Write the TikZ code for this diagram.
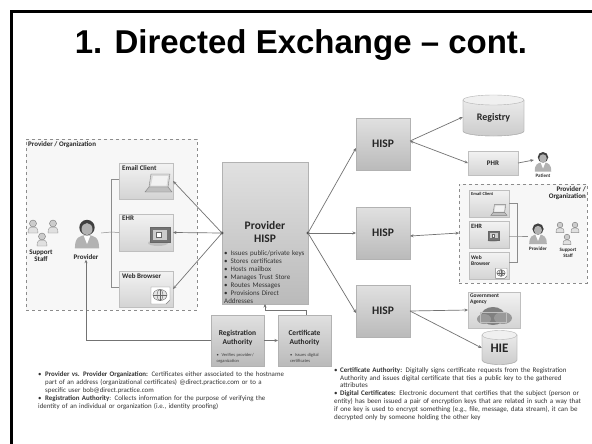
\documentclass[tikz,border=0pt]{standalone}
\usepackage{fontspec}
\setmainfont{Carlito}
\newfontfamily\titlefont{Liberation Sans}
\usetikzlibrary{arrows.meta}
\hyphenpenalty=10000
\exhyphenpenalty=10000
\newcommand\fsz[2]{\fontsize{#1}{#2}\selectfont}
\newcommand\bitem[2]{\par\hangindent=#1\hangafter=1\noindent\makebox[#1][l]{\textbullet}#2}
\tikzset{
  gbox/.style={draw=black!30, top color=black!12, bottom color=black!27, inner sep=0pt, outer sep=0pt},
  lbox/.style={draw=black!25, top color=black!5, bottom color=black!17, inner sep=0pt, outer sep=0pt},
  cont/.style={draw=black!45, dashed, fill=black!3, inner sep=0pt, outer sep=0pt, line width=0.6pt},
  arr/.style={draw=black!55, line width=0.7pt, -{Stealth[length=3.5pt,width=3pt]}},
  darr/.style={draw=black!55, line width=0.7pt, {Stealth[length=3.5pt,width=3pt]}-{Stealth[length=3.5pt,width=3pt]}},
  conn/.style={draw=black!45, line width=0.5pt},
  lbl/.style={font=\bfseries\fsz{7}{8}, inner sep=0pt, align=left, text=black!85},
  cyl/.style={draw=black!30, top color=black!8, bottom color=black!20},
  person/.pic={
    \fill[black!30] (-11,14) .. controls (-11,4) and (-7,2) .. (0,2) .. controls (7,2) and (11,4) .. (11,14) -- cycle;
    \fill[white] (-3,2.5) -- (0,10) -- (3,2.5) -- cycle;
    \fill[black!75] (0,-5) circle (7);
    \fill[black!30] (0,-3.5) ellipse (5 and 5.5);
  },
  staff/.pic={
    \draw[black!45, fill=black!12] (-10,14) .. controls (-10,4) and (-7,2) .. (0,2) .. controls (7,2) and (10,4) .. (10,14) -- cycle;
    \draw[black!55, fill=black!20] (0,-5) circle (7);
  },
  laptop/.pic={
    \draw[black!50, fill=black!15] (-6,-9) -- (13,-9) -- (11,4) -- (-8,4) -- cycle;
    \fill[black!5] (-4,-7) -- (11,-7) -- (9.5,2.5) -- (-6,2.5) -- cycle;
    \draw[black!50, fill=black!25] (-8,4) -- (11,4) -- (15,9) -- (-12,9) -- cycle;
  },
  monitor/.pic={
    \fill[black!25] (-2,8) ellipse (10 and 3);
    \draw[black!60, fill=black!55] (-10,-8) rectangle (10,7);
    \fill[black!20] (-7,-5.5) rectangle (7,4.5);
    \draw[black!60, fill=white] (-4,-3) rectangle (1,2);
  },
  globe/.pic={
    \draw[black!50, fill=white] (-9,-8) -- (10,-8) -- (10,5) -- (6,9) -- (-9,9) -- cycle;
    \draw[black!60, fill=black!10] (0,0) ellipse (7 and 5.5);
    \draw[black!60] (0,-5.5) -- (0,5.5) (-7,0) -- (7,0);
    \draw[black!60] (0,0) ellipse (3 and 5.5);
  },
}
\begin{document}
\begin{tikzpicture}[x=1pt,y=-1pt]
\useasboundingbox (0,0) rectangle (592,444);
\fill[white] (0,0) rectangle (592,444);
\draw[line width=3pt] (11,444) -- (11,11.5) -- (592,11.5);

% title
\node[font=\titlefont\bfseries\fsz{33}{36}, anchor=base, inner sep=0pt] (title) at (301,54) {1. Directed Exchange – cont.};

% ---------- left provider organization ----------
\node[cont, anchor=north west, minimum width=171, minimum height=171] (org) at (26,139) {};
\node[lbl, anchor=north west] (orglbl) at (28,141.5) {Provider / Organization};

\node[lbox, minimum width=54, minimum height=36] (email) at (146,181) {};
\node[lbl, anchor=north west] (emaillbl) at (122,165) {Email Client};
\pic at (157,183) {laptop};
\node[lbox, minimum width=54, minimum height=37] (ehr) at (146,232.5) {};
\node[lbl, anchor=north west] (ehrlbl) at (122,216) {EHR};
\pic at (160,235) {monitor};
\node[lbox, minimum width=54, minimum height=36] (web) at (146,289) {};
\node[lbl, anchor=north west] (weblbl) at (122,273) {Web Browser};
\pic at (160,295) {globe};

\pic[scale=0.5] at (33,226) {staff};
\pic[scale=0.5] at (53,226) {staff};
\pic[scale=0.5] at (42,239) {staff};
\node[lbl, align=center] (stafflbl) at (41,256) {Support\\[-1pt]Staff};
\node[inner sep=0pt, minimum width=28, minimum height=30] (prov) at (87,233) {};
\pic[scale=1.1] at (87,233) {person};
\node[lbl] (provlbl) at (86,257) {Provider};

\coordinate (bk1) at (111,179);
\coordinate (bk2) at (111,232);
\coordinate (bk3) at (111,287);
\draw[conn] (prov.east) -- (bk2);
\draw[conn] (email.west |- bk1) -- (bk1) -- (bk3) -- (bk3 -| web.west);
\draw[conn] (bk2) -- (ehr.west);

% ---------- provider HISP ----------
\node[gbox, anchor=north west, minimum width=86, minimum height=142] (phisp) at (222,162) {};
\node[font=\bfseries\fsz{11.5}{12.5}, align=center, inner sep=0pt, text=black!85] (phtitle) at (265,232) {Provider\\HISP};
\node[anchor=north west, inner sep=0pt, text width=82, font=\fsz{7}{8}, text=black!80] (phlist) at (224,247) {%
\bitem{6.5pt}{Issues public/private keys}
\bitem{6.5pt}{Stores certificates}
\bitem{6.5pt}{Hosts mailbox}
\bitem{6.5pt}{Manages Trust Store}
\bitem{6.5pt}{Routes Messages}
\bitem{6.5pt}{Provisions Direct Addresses}};
\fill[black!70] (phisp.west) circle (1.6);
\fill[black!70] (phisp.east) circle (1.6);
\draw[arr] (phisp.west) -- (email.east);
\draw[arr] (phisp.west) -- (ehr.east);
\draw[arr] (phisp.west) -- (web.east);

% ---------- RA and CA ----------
\node[gbox, anchor=north west, minimum width=53, minimum height=51] (ra) at (211,315) {};
\node[font=\bfseries\fsz{7.5}{8.5}, align=center, inner sep=0pt, text=black!85] (ratitle) at (237.5,338) {Registration\\Authority};
\node[font=\fsz{4.5}{6}, align=left, inner sep=0pt, text=black!75, text width=44] (ralist) at (238.5,356.5) {\bitem{5pt}{Verifies provider/ organization}};
\node[gbox, anchor=north west, minimum width=53, minimum height=51] (ca) at (278,315) {};
\node[font=\bfseries\fsz{7.5}{8.5}, align=center, inner sep=0pt, text=black!85] (catitle) at (304.5,338) {Certificate\\Authority};
\node[font=\fsz{4.5}{6}, align=left, inner sep=0pt, text=black!75, text width=34] (calist) at (307,356.5) {\bitem{5pt}{Issues digital certificates}};

\draw[arr] (ra.west) -| (provlbl.south);
\draw[arr] (ra.east) -- (ca.west);
\draw[arr] ([shift={(1.5,0)}]ca.north) -- ++(0,-4.5) -| (phisp.south);

% ---------- HISPs ----------
\node[gbox, anchor=north west, minimum width=54, minimum height=52] (hisp1) at (356,118) {};
\node[font=\bfseries\fsz{11.5}{12}, inner sep=0pt, text=black!85] (h1lbl) at (383,144) {HISP};
\node[gbox, anchor=north west, minimum width=54, minimum height=52] (hisp2) at (356,207) {};
\node[font=\bfseries\fsz{11.5}{12}, inner sep=0pt, text=black!85] (h2lbl) at (383,233) {HISP};
\node[gbox, anchor=north west, minimum width=54, minimum height=52] (hisp3) at (356,285) {};
\node[font=\bfseries\fsz{11.5}{12}, inner sep=0pt, text=black!85] (h3lbl) at (383,311) {HISP};

\draw[arr] (phisp.east) -- ([shift={(0,4)}]hisp1.west);
\draw[arr] (phisp.east) -- (hisp2.west);
\draw[arr] (phisp.east) -- ([shift={(0,2)}]hisp3.west);

% ---------- Registry / PHR / Patient ----------
\path[cyl] (463,100) -- (463,131) arc[start angle=180, end angle=0, x radius=30.5, y radius=5] -- (524,100) -- cycle;
\draw[draw=black!30, fill=black!6] (493.5,100) ellipse [x radius=30.5, y radius=5];
\draw[black!30] (463,100) -- (463,131) arc[start angle=180, end angle=0, x radius=30.5, y radius=5] -- (524,100);
\node[font=\bfseries\fsz{10}{11}, inner sep=0pt, minimum width=61, minimum height=41, text=black!85] (reg) at (493.5,118) {Registry};

\node[lbox, minimum width=50, minimum height=24] (phr) at (493,163) {};
\node[font=\bfseries\fsz{7}{8}, inner sep=0pt, text=black!85] (phrlbl) at (493,163) {PHR};
\node[inner sep=0pt, minimum width=18, minimum height=18] (pat) at (543,160) {};
\pic[scale=0.75] at (543,161) {person};
\node[font=\bfseries\fsz{5}{6}, inner sep=0pt, text=black!80] (patlbl) at (543,175.5) {Patient};

\coordinate (h1r) at ([shift={(0,-3)}]hisp1.east);
\draw[arr] (h1r) -- ([shift={(0,-1)}]reg.west);
\draw[darr] (h1r) -- (phr.west);
\draw[arr] (phr.east) -- (pat.west);

% ---------- right provider organization ----------
\node[cont, anchor=north west, minimum width=128, minimum height=99] (rorg) at (459,184) {};
\node[lbl, anchor=north east, align=right] (rorglbl) at (586,186.5) {Provider /\\[-1pt]Organization};
\node[lbox, minimum width=40, minimum height=27] (remail) at (489,203.5) {};
\node[font=\bfseries\fsz{4.5}{5}, anchor=north west, inner sep=0pt, text=black!85] (remaillbl) at (471,192) {Email Client};
\pic[scale=0.6] at (498,210) {laptop};
\node[lbox, minimum width=40, minimum height=27] (rehr) at (489,235) {};
\node[font=\bfseries\fsz{6.5}{7}, anchor=north west, inner sep=0pt, text=black!85] (rehrlbl) at (471,224) {EHR};
\pic[scale=0.55] at (494,236) {monitor};
\node[lbox, minimum width=40, minimum height=27] (rweb) at (489,266) {};
\node[font=\bfseries\fsz{5.5}{6.5}, anchor=north west, inner sep=0pt, align=left, text=black!85] (rweblbl) at (471,255) {Web\\Browser};
\pic[scale=0.6] at (501,273) {globe};

\node[inner sep=0pt, minimum width=20, minimum height=22] (rprov) at (538,232) {};
\pic[scale=0.8] at (538,233) {person};
\node[font=\bfseries\fsz{5}{6}, inner sep=0pt, text=black!85] (rprovlbl) at (538,249) {Provider};
\pic[scale=0.4] at (560,227) {staff};
\pic[scale=0.4] at (575,227) {staff};
\pic[scale=0.4] at (567,239) {staff};
\node[font=\bfseries\fsz{5}{6}, inner sep=0pt, align=center, text=black!85] (rstafflbl) at (568,252.5) {Support\\Staff};

\coordinate (rb1) at (517,203.5);
\coordinate (rb2) at (517,236);
\coordinate (rb3) at (517,262);
\draw[conn] (remail.east) -- (rb1) -- (rb3) -- (rb3 -| rweb.east);
\draw[conn] (rehr.east |- rb2) -- (rb2) -- (rprov.west |- rb2);

\draw[darr] ([shift={(0,3)}]hisp2.east) -- ([shift={(0,-0.5)}]rorg.west);

% ---------- Government / HIE ----------
\node[lbox, anchor=north west, minimum width=52, minimum height=36] (gov) at (468,292) {};
\fill[black!50] (493,316) ellipse (12 and 9);
\fill[black!40] (503,318) ellipse (9 and 6);
\fill[black!40] (484,319) ellipse (7 and 5);
\draw[black!25] (480,312) rectangle (506,322);
\node[font=\bfseries\fsz{5.5}{6}, anchor=north west, inner sep=0pt, align=left, text=black!85] (govlbl) at (470,294) {Government\\Agency};

\path[cyl] (482,335) -- (482,360) arc[start angle=180, end angle=0, x radius=17.5, y radius=4.5] -- (517,335) -- cycle;
\draw[draw=black!30, fill=black!6] (499.5,335) ellipse [x radius=17.5, y radius=4.5];
\draw[black!30] (482,335) -- (482,360) arc[start angle=180, end angle=0, x radius=17.5, y radius=4.5] -- (517,335);
\node[font=\bfseries\fsz{13}{14}, inner sep=0pt, minimum width=35, minimum height=34, text=black!85] (hie) at (499.5,348) {HIE};

\draw[arr] (hisp3.east) -- (gov.west);
\draw[arr] (hisp3.east) -- (hie.west);

% ---------- notes ----------
\node[anchor=north west, inner sep=0pt, text width=252, font=\fsz{6.9}{8}, align=left, text=black!80] (notesl) at (38,368) {%
\bitem{7pt}{\textbf{Provider vs. Provider Organization:} Certificates either associated to the hostname\newline part of an address (organizational certificates) @direct.practice.com or to a\newline specific user bob@direct.practice.com}
\bitem{7pt}{\textbf{Registration Authority}: Collects information for the purpose of verifying the\newline identity of an individual or organization (i.e., identity proofing)}};

\node[anchor=north west, inner sep=0pt, text width=254, font=\fsz{7}{7.9}, align=left, text=black!80] (notesr) at (334,364) {%
\bitem{6pt}{\textbf{Certificate Authority:} Digitally signs certificate requests from the Registration Authority and issues digital certificate that ties a public key to the gathered attributes}
\bitem{6pt}{\textbf{Digital Certificates:} Electronic document that certifies that the subject (person or entity) has been issued a pair of encryption keys that are related in such a way that if one key is used to encrypt something (e.g., file, message, data stream), it can be decrypted only by someone holding the other key}};
\end{tikzpicture}
\end{document}
